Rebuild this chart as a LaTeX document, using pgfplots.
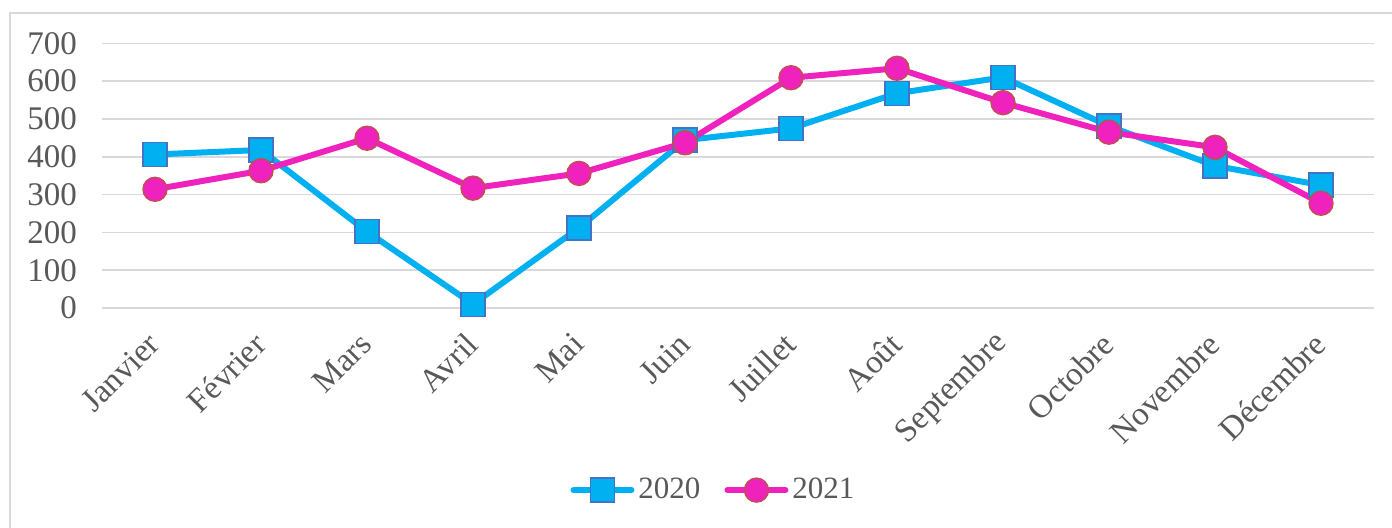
\documentclass[border=0pt]{standalone}
\usepackage{fontspec}
\setmainfont{Liberation Serif}
\usepackage{pgfplots}
\pgfplotsset{compat=1.18}
\definecolor{txt}{HTML}{595959}
\definecolor{grd}{HTML}{D9D9D9}
\definecolor{cA}{HTML}{00B0F0}
\definecolor{cAe}{HTML}{4472C4}
\definecolor{cB}{HTML}{F022BE}
\definecolor{cBe}{HTML}{C0504D}
\begin{document}
\begin{tikzpicture}
\useasboundingbox (0,0) rectangle (696pt,263.5pt);
\draw[grd, line width=1pt] (5pt,-20pt) rectangle (720pt,257pt);
\begin{axis}[
  at={(51pt,109.5pt)}, anchor=south west,
  scale only axis, width=636pt, height=132.35pt,
  xmin=-0.5, xmax=11.5, ymin=0, ymax=700,
  ytick={0,100,...,700},
  xtick={0,...,11},
  xticklabels={Janvier,Février,Mars,Avril,Mai,Juin,Juillet,Août,Septembre,Octobre,Novembre,Décembre},
  axis line style={draw=none},
  tick style={draw=none},
  ymajorgrids, major grid style={grd, line width=0.8pt},
  /pgf/number format/assume math mode=true,
  ticklabel style={font=\fontsize{16.5}{19}\selectfont, text=txt},
  yticklabel style={xshift=-9pt},
  xticklabel style={rotate=45, anchor=east, xshift=-7.7pt, yshift=-10.6pt},
  legend style={draw=none, at={(0.4815,-0.688)}, anchor=center, font=\fontsize{15.5}{18}\selectfont, text=txt, legend columns=2, /tikz/every even column/.append style={column sep=10pt}},
  legend image code/.code={\draw[mark repeat=2,mark phase=2,#1] plot coordinates {(0pt,0pt) (14.5pt,0pt) (29pt,0pt)};},
  clip=false,
]
\addplot[cA, line width=3pt, line cap=round, mark=square*, mark size=6pt, mark options={fill=cA, draw=cAe, line width=0.7pt}]
coordinates {(0,406) (1,418) (2,202) (3,10) (4,212) (5,444) (6,475) (7,568) (8,610) (9,481) (10,376) (11,325)};
\addlegendentry{2020}
\addplot[cB, line width=3pt, line cap=round, mark=*, mark size=6pt, mark options={fill=cB, draw=cBe, line width=0.7pt}]
coordinates {(0,314) (1,363) (2,449) (3,317) (4,356) (5,437) (6,609) (7,634) (8,543) (9,465) (10,425) (11,277)};
\addlegendentry{2021}
\end{axis}
\end{tikzpicture}
\end{document}
